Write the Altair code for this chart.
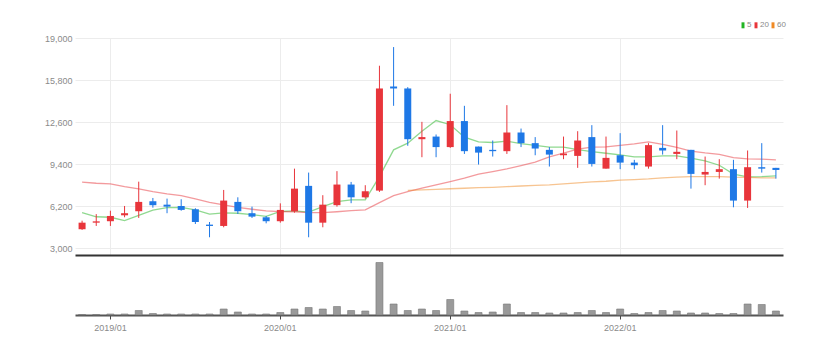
import altair as alt
import pandas as pd

months = [str(p) for p in pd.period_range("2018-11", "2022-12", freq="M")]

open_ = [4450, 4950, 5060, 5510, 5820, 6580, 6320, 6220, 5970, 4800,
         4700, 6530, 5670, 5360, 5060, 5820, 7750, 4950, 6280, 7850,
         6880, 7390, 15310, 15160, 11300, 11500, 10700, 12680, 10740, 10490,
         10390, 11810, 11000, 10490, 10080, 10030, 11460, 9060, 10080, 9520,
         9220, 10640, 10180, 10490, 8610, 8810, 9020, 6630, 9170, 9120]
high_ = [5100, 5600, 5860, 6220, 8070, 6830, 6780, 6730, 6050, 5000,
         7440, 6880, 6170, 5460, 6420, 9060, 8760, 7040, 8870, 8050,
         7800, 16890, 18310, 15260, 12620, 11660, 14760, 13840, 10740, 11200,
         13890, 12110, 11460, 10700, 11500, 11910, 12370, 11500, 11760, 9730,
         11000, 12370, 11960, 10490, 9980, 9780, 9730, 10440, 11000, 9120]
low_ = [4400, 4700, 4700, 5360, 5310, 6090, 5670, 5860, 4850, 3840,
        4600, 5610, 5310, 4900, 4950, 5710, 3840, 4600, 6170, 6430,
        6780, 7290, 13840, 10800, 9930, 9930, 10640, 10180, 9370, 9980,
        10180, 10700, 10080, 9220, 9780, 9120, 9220, 9060, 9020, 9020,
        9060, 10130, 9780, 7540, 7800, 8300, 6120, 6070, 8760, 8300]
close_ = [4950, 5050, 5460, 5670, 6530, 6280, 6170, 5920, 5000, 4700,
          6630, 5820, 5410, 5060, 5920, 7540, 4950, 6320, 7850, 6880,
          7340, 15160, 15160, 11300, 11460, 10700, 12680, 10390, 10280, 10390,
          11810, 11000, 10590, 10130, 10210, 11200, 9420, 9880, 9520, 9320,
          10850, 10440, 10340, 8660, 8810, 9020, 6630, 9170, 9060, 8960]
volume_ = [0.5, 0.5, 1, 1, 4.5, 1.5, 1, 1, 1, 1,
           6, 3, 1, 1, 2.5, 6, 7.5, 6, 8.5, 4.5,
           4, 52.5, 11, 4.5, 6, 4.5, 15.5, 4, 2.5, 3,
           11, 2.5, 2.5, 2, 2, 2.5, 4.5, 2.5, 6, 1.5,
           2.5, 4.5, 4, 2, 2, 1.5, 1.5, 11, 10.5, 4]

ma5 = [5712, 5400, 5362, 5100, 5500, 5900, 6100, 6110, 5918, 5600,
       5700, 5667, 5560, 5430, 5800, 5840, 5750, 6170, 6550, 6680,
       6680, 8455, 10490, 11000, 11900, 12720, 12400, 11450, 11100, 11050,
       11150, 10960, 10830, 10700, 10700, 10500, 10360, 10230, 10100, 9950,
       9960, 10030, 10030, 9857, 9660, 9320, 8650, 8440, 8455, 8510]
ma20 = [8030, 7950, 7900, 7690, 7520, 7310, 7140, 7010, 6760, 6500,
        6300, 6120, 5970, 5840, 5790, 5780, 5712, 5712, 5780, 5865,
        5918, 6474, 7010, 7310, 7570, 7820, 8075, 8330, 8635, 8836,
        9040, 9290, 9550, 9950, 10240, 10540, 10695, 10720, 10830, 10946,
        11100, 10900, 10680, 10400, 10260, 10150, 9900, 9800, 9780, 9730]
ma60 = [None] * 23 + [7400, 7440, 7490, 7530, 7570, 7610, 7640, 7690, 7740,
                      7790, 7830, 7900, 7975, 8050, 8100, 8180, 8230, 8280,
                      8355, 8410, 8455, 8455, 8455, 8410, 8390, 8355, 8355]

year_ticks = ["2019-01", "2020-01", "2021-01", "2022-01"]
price_ticks = [3000, 6200, 9400, 12600, 15800, 19000]
ma_names = ["5", "20", "60"]

df = pd.DataFrame({"month": months, "open": open_, "high": high_, "low": low_,
                   "close": close_, "volume": volume_})
df["dir"] = ["up" if c >= o else "down" for o, c in zip(open_, close_)]

rows = []
for name, series in zip(ma_names, [ma5, ma20, ma60]):
    for m, v in zip(months, series):
        if v is not None:
            rows.append({"month": m, "ma": name, "value": v})
ma_df = pd.DataFrame(rows)

FONT = "Liberation Sans"
xscale = alt.Scale(paddingInner=0, paddingOuter=0)
yscale = alt.Scale(domain=[2490, 19000], nice=False, zero=False)

x_price = alt.X("month:O", sort=months, scale=xscale, title=None,
                axis=alt.Axis(labels=False, ticks=False, domain=True,
                              domainColor="#333333", domainWidth=2,
                              grid=True, gridColor="#ececec", values=year_ticks,
                              bandPosition=0.5))
y_axis = alt.Axis(values=price_ticks, format=",.0f", title=None, ticks=False,
                  domain=False, gridColor="#ececec", labelColor="#8a8a8a",
                  labelFont=FONT, labelFontSize=9, labelPadding=3,
                  minExtent=70, maxExtent=70)
dir_color = alt.Color("dir:N", scale=alt.Scale(domain=["up", "down"],
                                               range=["#e8353b", "#1e78e6"]),
                      legend=None)

base = alt.Chart(df).encode(x=x_price)
wick = base.mark_rule(strokeWidth=1).encode(
    y=alt.Y("low:Q", scale=yscale, axis=y_axis), y2="high:Q", color=dir_color)
body = base.mark_bar(size=7).encode(
    y=alt.Y("open:Q", scale=yscale, axis=y_axis), y2="close:Q", color=dir_color)

lines = alt.Chart(ma_df).mark_line(strokeWidth=1.3, opacity=0.5).encode(
    x=alt.X("month:O", sort=months, scale=xscale, title=None),
    y=alt.Y("value:Q", scale=yscale, axis=y_axis),
    color=alt.Color("ma:N", sort=ma_names,
                    scale=alt.Scale(domain=ma_names,
                                    range=["#22b422", "#e8353b", "#f08a24"]),
                    legend=alt.Legend(orient="none", legendX=664, legendY=-17,
                                      direction="horizontal", title=None,
                                      symbolType="M-0.25,-0.8L0.25,-0.8L0.25,0.8L-0.25,0.8Z",
                                      symbolSize=30,
                                      symbolStrokeWidth=1.6, symbolOpacity=1,
                                      labelFont=FONT, labelFontSize=8,
                                      labelColor="#8a8a8a", columnPadding=0,
                                      labelOffset=0)),
)

price = alt.layer(lines, wick, body).resolve_scale(color="independent").properties(
    width=708, height=217)

vol = alt.Chart(df).mark_bar(size=7, color="#9a9a9a", stroke="#777777",
                             strokeWidth=0.6).encode(
    x=alt.X("month:O", sort=months, scale=xscale, title=None,
            axis=alt.Axis(values=year_ticks, labelExpr="replace(datum.value, '-', '/')",
                          bandPosition=0.5, domainColor="#555555", domainWidth=2,
                          tickColor="#444444", tickSize=4, labelColor="#8a8a8a",
                          labelFont=FONT, labelFontSize=9, labelPadding=4,
                          labelAngle=0, grid=False)),
    y=alt.Y("volume:Q", scale=alt.Scale(domain=[0, 60], nice=False),
            axis=alt.Axis(labels=False, ticks=False, domain=False, grid=False,
                          title=None, minExtent=70, maxExtent=70)),
).properties(width=708, height=60)

chart = alt.vconcat(price, vol, spacing=0).configure_view(stroke=None).properties(
    padding={"left": 5, "top": 21, "right": 5, "bottom": 5},
    background="white")

chart.save("out.html", embed_options={"renderer": "svg", "actions": False})
